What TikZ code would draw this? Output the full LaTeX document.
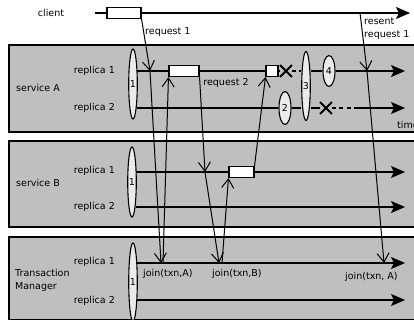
\documentclass[tikz,border=0pt]{standalone}
\usepackage{fontspec}
\setmainfont{DejaVu Sans}
\usetikzlibrary{arrows.meta,shapes,positioning}

\begin{document}
\begin{tikzpicture}[x=1pt,y=-1pt]
                    \tikzstyle{every node}+=[inner sep=0pt,font=\fontsize{9.5}{13}\selectfont]
                    \tikzstyle{service}=[draw=black,line width=1.2pt,fill=black!25]
                    \tikzstyle{life}=[black,line width=1.3pt]
                    \tikzstyle{timeline}=[life,-{Stealth[length=14pt,width=12pt,inset=3pt]}]
                    \tikzstyle{lost}=[life,dash pattern=on 4pt off 3.5pt]
                    \tikzstyle{msg}=[black,line width=1pt,-{Straight Barb[length=9pt,width=12pt]}]
                    \tikzstyle{sync}=[draw=black,line width=1.1pt,fill=black!8,ellipse,minimum width=8pt]
                    \tikzstyle{work}=[draw=black,line width=1.1pt,fill=white,rectangle,minimum height=11pt]
                    \tikzstyle{crash}=[draw=black,line width=1.9pt,cross out,minimum size=10pt]
                    \useasboundingbox (0,0) rectangle (414,320);
                    % client
                    \node (client) at (51,13) {client};
                    \coordinate (c0) at (95,13);
                    \node [work,minimum width=34pt] (cbox) at (124,13) {};
                    \coordinate (resend) at (360,13);
                    \coordinate (cend) at (410,13);
                    \draw [life] (c0) -- (cbox);
                    \draw [timeline] (cbox) -- (cend);
                    \node [anchor=west] (lreq1) at (145,32) {request 1};
                    \node [anchor=west,align=left] (lresent) at (364,29) {resent\\request 1};
                    % service A
                    \draw [service] (9,45) rectangle (424,132);
                    \node (srvA) at (38,88) {service A};
                    \node [anchor=east] (ra1) at (115,71) {replica 1};
                    \node [anchor=east] (ra2) at (115,108) {replica 2};
                    \node [sync,minimum height=70pt] (a1) at (133,84) {1};
                    \node [sync,minimum height=33pt,minimum width=12pt] (a2) at (285,108) {2};
                    \node [sync,minimum height=69pt] (a3) at (306,86) {3};
                    \node [sync,minimum height=31pt,minimum width=12pt] (a4) at (329,71) {4};
                    \node [work,minimum width=30pt] (req2) at (184,71) {};
                    \node [work,minimum width=12pt] (ack) at (272,71) {};
                    \node [crash] (xa1) at (286,71) {};
                    \node [crash] (xa2) at (326,108) {};
                    \coordinate (a1s) at (137,71);
                    \coordinate (a2s) at (137,108);
                    \coordinate (a2d) at (357,108);
                    \coordinate (a1e) at (405,71);
                    \coordinate (a2e) at (405,108);
                    \draw [life] (a1s) -- (req2) -- (ack) -- (xa1);
                    \draw [lost] (xa1) -- (xa1 -| a3.west);
                    \draw [life] (a3.east |- a4) -- (a4);
                    \draw [timeline] (a4) -- (a1e);
                    \draw [life] (a2s) -- (a2) -- (a2 -| a3.west);
                    \draw [life] (a3.east |- a2) -- (xa2);
                    \draw [lost] (xa2) -- (a2d);
                    \draw [timeline] (a2d) -- (a2e);
                    \node (lreq2) at (226,83) {request 2};
                    \node [anchor=west] (ltime) at (397,125) {time};
                    % service B
                    \draw [service] (9,141) rectangle (424,227);
                    \node (srvB) at (38,183) {service B};
                    \node [anchor=east] (rb1) at (115,171) {replica 1};
                    \node [anchor=east] (rb2) at (115,207) {replica 2};
                    \node [sync,minimum height=70pt] (b1) at (132,182) {1};
                    \node [work,minimum width=25pt] (bbox) at (241.5,172) {};
                    \coordinate (b1s) at (136,172);
                    \coordinate (b2s) at (136,207);
                    \coordinate (b1e) at (405,172);
                    \coordinate (b2e) at (405,207);
                    \draw [timeline] (b1s) -- (bbox) -- (b1e);
                    \draw [timeline] (b2s) -- (b2e);
                    % transaction manager
                    \draw [service] (9,237) rectangle (424,319.5);
                    \node [anchor=west,align=left] (srvT) at (15,280) {Transaction\\Manager};
                    \node [anchor=east] (rt1) at (115,262) {replica 1};
                    \node [anchor=east] (rt2) at (115,301) {replica 2};
                    \node [sync,minimum height=78pt] (t1) at (133,282) {1};
                    \coordinate (t1s) at (137,263);
                    \coordinate (t2s) at (137,300);
                    \coordinate (t1e) at (405,263);
                    \coordinate (t2e) at (405,300);
                    \draw [timeline] (t1s) -- (t1e);
                    \draw [timeline] (t2s) -- (t2e);
                    \node [anchor=west] (lj1) at (143,274) {join(txn,A)};
                    \node [anchor=west] (lj2) at (212,274) {join(txn,B)};
                    \node [anchor=west] (lj3) at (345,277) {join(txn, A)};
                    % messages
                    \coordinate (m1) at (150,71);
                    \coordinate (m2) at (205,172);
                    \coordinate (m3) at (367,71);
                    \coordinate (j1) at (161,263);
                    \coordinate (j1b) at (163,263);
                    \coordinate (j2) at (219,263);
                    \coordinate (j2b) at (222,263);
                    \coordinate (j3) at (384,263);
                    \draw [msg] (cbox.south east) -- (m1);
                    \draw [msg] (m1) -- (j1);
                    \draw [msg] (j1b) -- (req2.south west);
                    \draw [msg] (req2.south east) -- (m2);
                    \draw [msg] (m2) -- (j2);
                    \draw [msg] (j2b) -- (bbox.south west);
                    \draw [msg] (bbox.north east) -- (ack.south west);
                    \draw [msg] (resend) -- (m3);
                    \draw [msg] (m3) -- (j3);
                \end{tikzpicture}
\end{document}
